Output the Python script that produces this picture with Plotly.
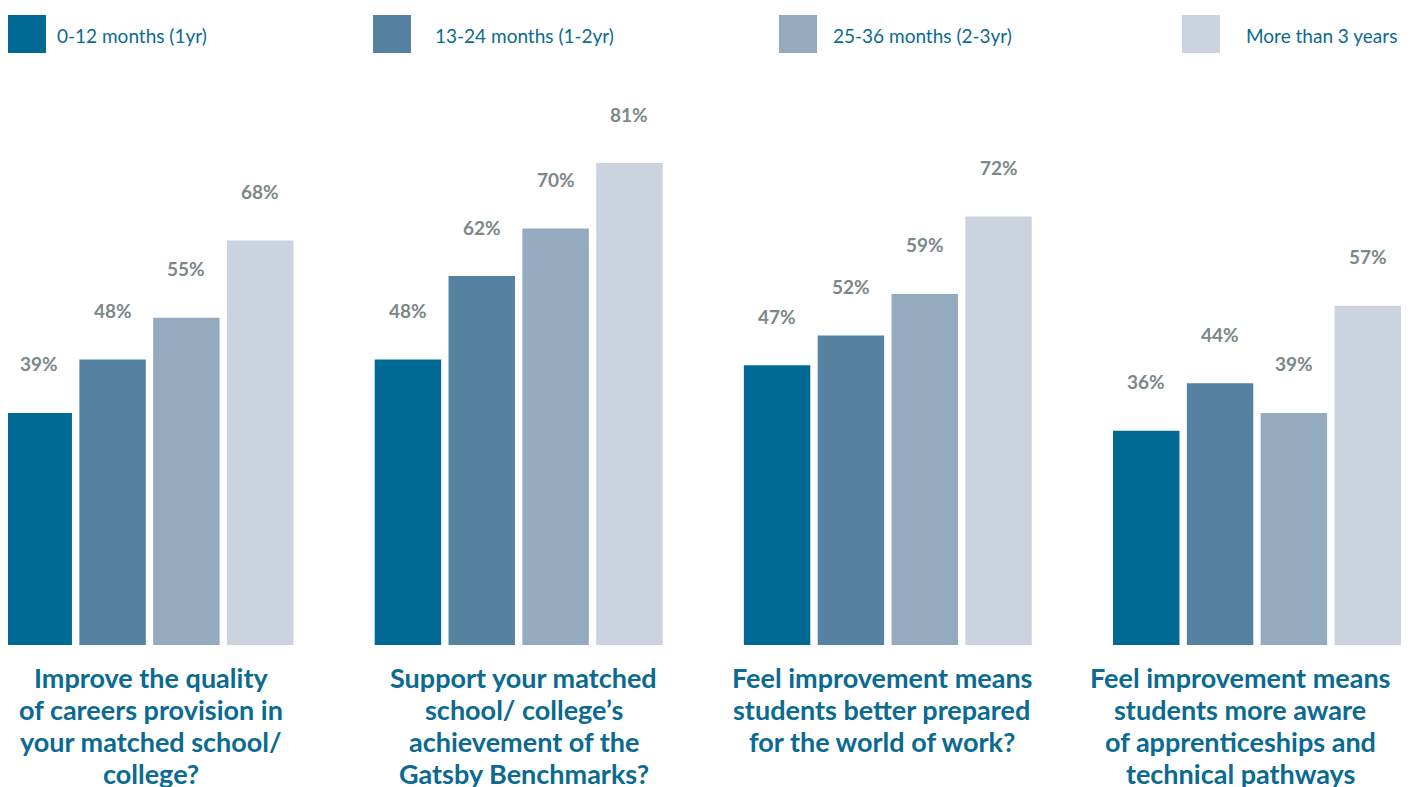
import plotly.graph_objects as go

category_lines = [
    ["Improve the quality", "of careers provision in", "your matched school/", "college?"],
    ["Support your matched", "school/ college’s", "achievement of the", "Gatsby Benchmarks?"],
    ["Feel improvement means", "students better prepared", "for the world of work?"],
    ["Feel improvement means", "students more aware", "of apprenticeships and", "technical pathways"],
]
series_names = ["0-12 months (1yr)", "13-24 months (1-2yr)", "25-36 months (2-3yr)", "More than 3 years"]
values = [
    [39, 48, 47, 36],
    [48, 62, 52, 44],
    [55, 70, 59, 39],
    [68, 81, 72, 57],
]
colors = ["#006994", "#5582a0", "#94aabe", "#cbd4de"]

# page is offset by the default 8px body margin
OFF = 8
W, H = 1416 - OFF, 787 - OFF
BASE = 645 - OFF
TOP100 = 50 - OFF
T, B = TOP100, H - BASE
TEXT_BLUE = "#0b6a91"
LABEL_GRAY = "#7b8888"
FONT = "Lato, 'Open Sans', sans-serif"
CAT_XSHIFT = [1, 5, -6, -17]

xs = list(range(len(category_lines)))
fig = go.Figure()
for i, name in enumerate(series_names):
    fig.add_trace(go.Bar(x=xs, y=values[i], name=name, marker=dict(color=colors[i], line=dict(width=0)),
                         hoverinfo="skip"))

ann = []
for i in range(len(series_names)):
    for g in xs:
        ann.append(dict(x=g + (i - 1.5) * 0.2, y=values[i][g], xref="x", yref="y",
                        text=f"{values[i][g]}%", showarrow=False, yanchor="middle", yshift=49,
                        font=dict(family=FONT, size=19, color=LABEL_GRAY, weight="bold")))
for g in xs:
    for k, line in enumerate(category_lines[g]):
        ann.append(dict(x=g, y=0, xref="x", yref="paper", text=f"<b>{line}</b>", showarrow=False,
                        yanchor="middle", yshift=-(32 + 32 * k), xshift=CAT_XSHIFT[g], align="center",
                        font=dict(family=FONT, size=27, color=TEXT_BLUE)))

# manual legend
plot_h = H - T - B
def py(pix):
    return 1 - (pix - OFF - T) / plot_h
sq_left = [8, 373, 779, 1182]
txt_left = [55, 433, 831, 1244]
shapes = []
for i, name in enumerate(series_names):
    shapes.append(dict(type="rect", xref="paper", yref="paper",
                       x0=(sq_left[i] - OFF) / W, x1=(sq_left[i] - OFF + 38) / W, y0=py(53), y1=py(15),
                       fillcolor=colors[i], line=dict(width=0)))
    ann.append(dict(x=(txt_left[i] - OFF) / W, y=py(35), xref="paper", yref="paper", text=name, showarrow=False,
                    xanchor="left", yanchor="middle",
                    font=dict(family=FONT, size=19, color=TEXT_BLUE)))

c0, c3 = 149.5 - OFF, 1257 - OFF
scale = (c3 - c0) / 3
r0 = -c0 / scale
r1 = r0 + W / scale
fig.update_layout(
    width=W, height=H, barmode="group", bargap=0.2, bargroupgap=0.1,
    margin=dict(l=0, r=0, t=T, b=B), paper_bgcolor="white", plot_bgcolor="white",
    showlegend=False,
    xaxis=dict(range=[r0, r1], showticklabels=False, showgrid=False, zeroline=False, showline=False),
    yaxis=dict(range=[0, 100], showticklabels=False, showgrid=False, zeroline=False, showline=False),
    annotations=ann, shapes=shapes,
)
fig.write_html("out.html")
